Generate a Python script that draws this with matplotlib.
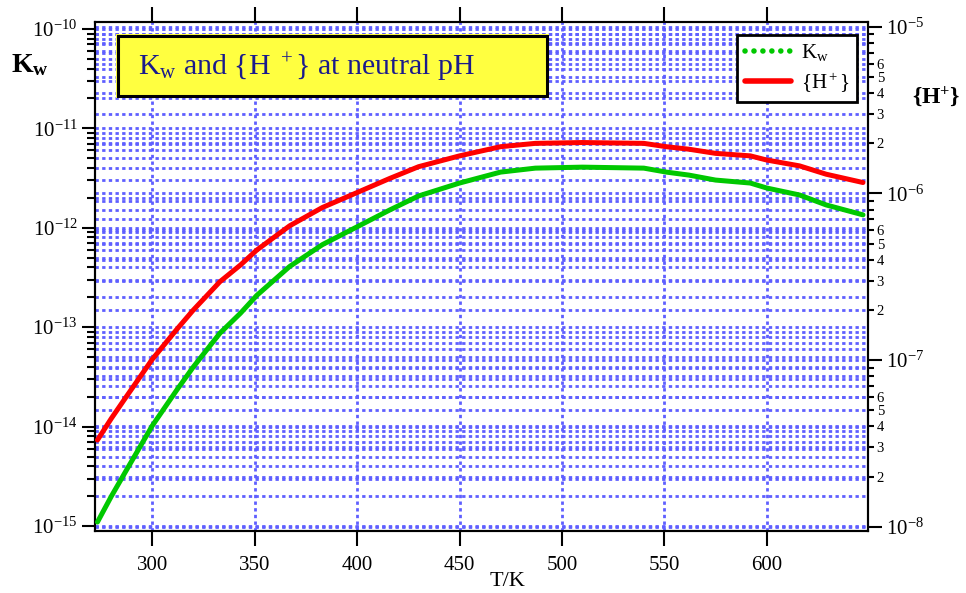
import numpy as np
import matplotlib
matplotlib.use("Agg")
import matplotlib.pyplot as plt
from matplotlib.patches import Rectangle
from matplotlib.lines import Line2D
from matplotlib.ticker import FuncFormatter, NullFormatter, FixedLocator, LogFormatterSciNotation

plt.rcParams['font.family'] = ['Liberation Serif', 'DejaVu Serif']
plt.rcParams['mathtext.fontset'] = 'custom'
plt.rcParams['mathtext.rm'] = 'Liberation Serif'
plt.rcParams['mathtext.it'] = 'Liberation Serif:italic'
plt.rcParams['mathtext.bf'] = 'Liberation Serif:bold'

# temperature (K) and pKw = -log10(Kw)
T = [273.2, 280, 287, 300, 312, 320, 333, 343, 351, 367, 383, 400, 416, 430,
     450, 470, 487, 510, 540, 551, 562, 575, 592, 600, 616, 629, 647]
pKw = [14.96, 14.70, 14.45, 13.99, 13.63, 13.40, 13.06, 12.86, 12.68, 12.39,
       12.17, 11.99, 11.82, 11.68, 11.55, 11.44, 11.40, 11.39, 11.40, 11.44,
       11.47, 11.52, 11.55, 11.60, 11.67, 11.77, 11.87]
xticks = [300, 350, 400, 450, 500, 550, 600]
kw_decades = [-15, -14, -13, -12, -11, -10]
h_decades = [-8, -7, -6, -5]

T = np.array(T)
Kw = 10.0 ** (-np.array(pKw))
H = np.sqrt(Kw)


def majors(decs):
    return [10.0 ** d for d in decs]


def minors(decs):
    return [m * 10.0 ** d for d in decs[:-1] for m in range(2, 10)]


W, Hpx = 966, 593
fig = plt.figure(figsize=(W / 100, Hpx / 100), dpi=100)
left, right, top, bottom = 95, 867.7, 21.7, 530.7
ax1 = fig.add_axes([left / W, 1 - bottom / Hpx, (right - left) / W, (bottom - top) / Hpx])
ax2 = ax1.twinx()

gridc = '#5F5FFF'
gkw = dict(color=gridc, linewidth=2.0, linestyle=(0, (1.2, 1.2)))

# right axis behind, left axis on top with transparent patch
ax1.set_zorder(ax2.get_zorder() + 1)
ax1.patch.set_visible(False)

ax1.set_yscale('log')
ax2.set_yscale('log')
ax1.set_xlim(272.0, 649.3)
ax1.set_ylim(10 ** -15.047, 10 ** -9.927)
ax2.set_ylim(10 ** -8.024, 10 ** -4.97)

ax1.plot(T, Kw, color='#00C800', lw=3.6, zorder=4, solid_capstyle='round')
ax1.plot(T, H, color='#FF0000', lw=3.6, zorder=4, transform=ax2.transData,
         solid_capstyle='round')

# ticks
ax1.xaxis.set_major_locator(FixedLocator(xticks))
ax1.yaxis.set_major_locator(FixedLocator(majors(kw_decades)))
ax1.yaxis.set_major_formatter(LogFormatterSciNotation())
ax1.yaxis.set_minor_locator(FixedLocator(minors(kw_decades)))
ax1.yaxis.set_minor_formatter(NullFormatter())
ax2.yaxis.set_major_locator(FixedLocator(majors(h_decades)))
ax2.yaxis.set_major_formatter(LogFormatterSciNotation())
ax2.yaxis.set_minor_locator(FixedLocator(minors(h_decades)))


def minor_lab(v, pos):
    m = v / 10 ** np.floor(np.log10(v) + 1e-9)
    m = int(round(m))
    return str(m) if 2 <= m <= 6 else ''


ax2.yaxis.set_minor_formatter(FuncFormatter(minor_lab))

ax1.tick_params(axis='x', which='major', direction='out', length=10.5, width=1.5,
                top=True, labeltop=False, labelsize=15, pad=8)
ax1.tick_params(axis='y', which='major', direction='out', length=9.5, width=1.5,
                right=False, labelsize=15, pad=3)
ax1.tick_params(axis='y', which='minor', direction='out', length=6, width=1.5, right=False)
ax2.tick_params(axis='y', which='major', direction='out', length=10, width=1.5,
                labelsize=15, pad=3)
ax2.tick_params(axis='y', which='minor', direction='out', length=4.5, width=1.5,
                labelsize=10.5, pad=2)

for a in (ax1, ax2):
    for s in a.spines.values():
        s.set_linewidth(1.5)

ax2.grid(True, which='both', axis='y', **gkw)
ax1.grid(True, which='both', axis='y', **gkw)
ax1.grid(True, which='major', axis='x', **gkw)
ax2.set_axisbelow(True)
ax1.set_axisbelow(True)

ax1.set_xlabel('T/K', fontsize=16, labelpad=1)
ax1.xaxis.set_label_coords((507 - left) / (right - left), -(582 - bottom) / (bottom - top))
ax1.xaxis.label.set_va('center')

fig.text(30 / W, 1 - 65 / Hpx, r'K$_\mathbf{w}$', fontsize=20, fontweight='bold',
         ha='center', va='center')
fig.text(936 / W, 1 - 97 / Hpx, r'{H$^\mathbf{+}$}', fontsize=17, fontweight='bold',
         ha='center', va='center')


# title box
def fx(px):
    return px / W


def fy(py):
    return 1 - py / Hpx


bx0, bx1, by0, by1 = 118.3, 546.7, 36, 95.7
fig.patches.append(Rectangle((fx(bx0 - 2), fy(by1 + 2)), fx(bx1 - bx0 + 4), (by1 - by0 + 4) / Hpx,
                             transform=fig.transFigure, facecolor='#FFFF40', edgecolor='none',
                             zorder=5))
fig.patches.append(Rectangle((fx(bx0 + 2), fy(by1 + 1.5)), fx(bx1 - bx0), (by1 - by0) / Hpx,
                             transform=fig.transFigure, facecolor='black', edgecolor='none',
                             zorder=5.5))
fig.patches.append(Rectangle((fx(bx0), fy(by1)), fx(bx1 - bx0), (by1 - by0) / Hpx,
                             transform=fig.transFigure, facecolor='#FFFF40', edgecolor='black',
                             linewidth=2.2, zorder=6))
fig.text(fx(138), fy(67), r'K$_\mathrm{w}$ and {H $^+$} at neutral pH', fontsize=21.5,
         color='#1A1A8C', ha='left', va='center', zorder=7)

# legend
handles = [Line2D([], [], color='#00C800', lw=4, linestyle=(0, (0.01, 1.6)),
                  dash_capstyle='round', solid_capstyle='round'),
           Line2D([], [], color='#FF0000', lw=4, solid_capstyle='round')]
leg = ax1.legend(handles, [r'K$_\mathrm{w}$', r'{H$^+$}'], loc='upper right',
                 bbox_to_anchor=((856.7 - left) / (right - left), 1 - (35 - top) / (bottom - top)),
                 fontsize=15, frameon=True, fancybox=False, framealpha=1,
                 edgecolor='black', handlelength=2.2, handletextpad=0.5,
                 borderpad=0.35, labelspacing=0.35, borderaxespad=0)
leg.get_frame().set_linewidth(2)
leg.set_zorder(10)

fig.savefig('out.png', dpi=100)
